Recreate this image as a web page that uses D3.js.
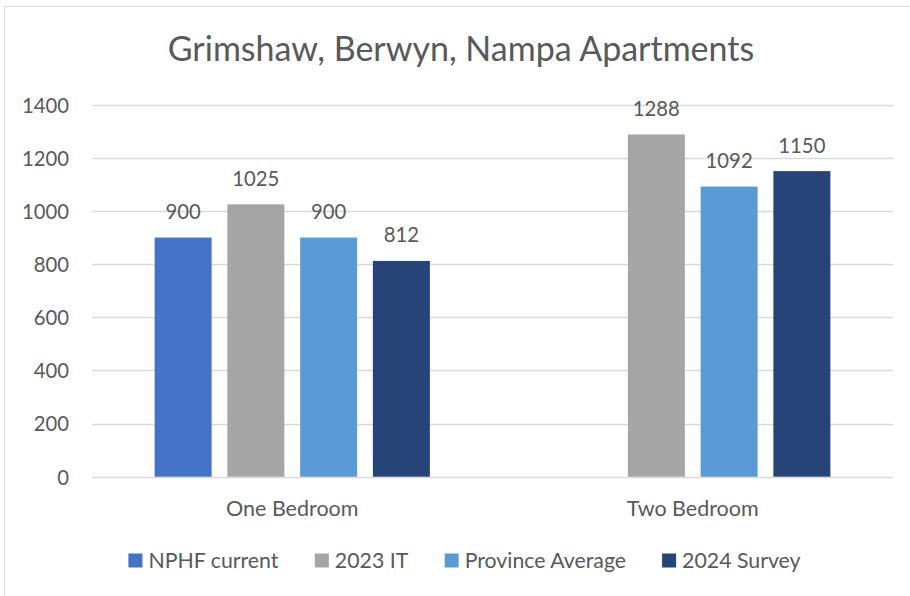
<!DOCTYPE html>
<html>
<head>
<meta charset="utf-8">
<script src="https://cdn.jsdelivr.net/npm/d3@7"></script>
<style>
  html, body { margin: 0; padding: 0; background: #fff; }
  svg { display: block; font-family: Lato, "Open Sans", sans-serif; }
</style>
</head>
<body>
<svg id="chart" width="910" height="596"></svg>
<script>
const title = "Grimshaw, Berwyn, Nampa Apartments";
const categories = ["One Bedroom", "Two Bedroom"];
const seriesNames = ["NPHF current", "2023 IT", "Province Average", "2024 Survey"];
const seriesColors = ["#4472C4", "#A5A5A5", "#5B9BD5", "#264478"];
const nphfCurrent = [900, null];
const it2023 = [1025, 1288];
const provinceAverage = [900, 1092];
const survey2024 = [812, 1150];
const yTicks = [0, 200, 400, 600, 800, 1000, 1200, 1400];

const seriesValues = [nphfCurrent, it2023, provinceAverage, survey2024];
const textColor = "#595959";
const gridColor = "#D9D9D9";

const svg = d3.select("#chart");
svg.append("rect").attr("x", 0).attr("y", 0).attr("width", 910).attr("height", 596).attr("fill", "#fff");
// chart frame
svg.append("rect").attr("x", 4.5).attr("y", 6.5).attr("width", 920).attr("height", 620)
  .attr("fill", "none").attr("stroke", gridColor).attr("stroke-width", 1);

const plotLeft = 92, plotRight = 893, plotTop = 104.7, plotBottom = 476.7;

const y = d3.scaleLinear().domain([0, 1400]).range([plotBottom, plotTop]);
const x0 = d3.scaleBand().domain(categories).range([plotLeft, plotRight]).padding(0);
const groupW = x0.bandwidth() * 0.7266;
const p = 0.2165;
const x1 = d3.scaleBand().domain(seriesNames).range([-groupW / 2, groupW / 2])
  .paddingInner(p).paddingOuter(p / 2);

// gridlines
svg.append("g").selectAll("line").data(yTicks).join("line")
  .attr("x1", plotLeft).attr("x2", plotRight)
  .attr("y1", d => Math.round(y(d)) + 0.5).attr("y2", d => Math.round(y(d)) + 0.5)
  .attr("stroke", gridColor).attr("stroke-width", 1.3);

// y axis labels
const yAxis = d3.axisLeft(y).tickValues(yTicks).tickSize(0).tickPadding(0).tickFormat(d3.format("d"));
const yg = svg.append("g").attr("transform", `translate(69,0)`).call(yAxis);
yg.select(".domain").remove();
yg.selectAll("text").attr("fill", textColor).attr("font-size", "20.3px")
  .attr("font-family", "Lato, sans-serif").attr("dy", "0.36em");

// bars
const flat = [];
categories.forEach((c, ci) => {
  seriesNames.forEach((s, si) => {
    const v = seriesValues[si][ci];
    if (v !== null && v !== undefined) flat.push({ c, s, si, v });
  });
});

const bars = svg.append("g");
bars.selectAll("rect").data(flat).join("rect")
  .attr("x", d => x0(d.c) + x0.bandwidth() / 2 + x1(d.s))
  .attr("y", d => y(d.v))
  .attr("width", x1.bandwidth())
  .attr("height", d => y(0) - y(d.v))
  .attr("fill", d => seriesColors[d.si]);

// data labels
svg.append("g").selectAll("text").data(flat).join("text")
  .attr("x", d => x0(d.c) + x0.bandwidth() / 2 + x1(d.s) + x1.bandwidth() / 2)
  .attr("y", d => y(d.v) - 18.5)
  .attr("text-anchor", "middle")
  .attr("fill", textColor).attr("font-size", "20.3px")
  .text(d => d.v);

// x axis category labels
const xAxis = d3.axisBottom(x0).tickSize(0).tickPadding(0);
const xg = svg.append("g").attr("transform", `translate(0,${plotBottom})`).call(xAxis);
xg.select(".domain").remove();
xg.selectAll("text").attr("fill", textColor).attr("font-size", "21.5px")
  .attr("font-family", "Lato, sans-serif").attr("dy", null).attr("y", 39.5);

// title
svg.append("text").attr("x", 461).attr("y", 61).attr("text-anchor", "middle")
  .attr("fill", textColor).attr("font-size", "34px").text(title);

// legend
const legend = svg.append("g");
const items = legend.selectAll("g").data(seriesNames).join("g");
items.append("rect").attr("width", 14).attr("height", 14).attr("y", 553.5)
  .attr("fill", (d, i) => seriesColors[i]);
items.append("text").attr("x", 20).attr("y", 567.5).attr("fill", textColor)
  .attr("font-size", "21.3px").text(d => d);
const widths = [];
items.each(function () { widths.push(this.getBBox().width); });
const spacing = 36;
const total = d3.sum(widths) + spacing * (widths.length - 1);
let cx = 464.5 - total / 2;
items.attr("transform", (d, i) => {
  const t = `translate(${cx},0)`;
  cx += widths[i] + spacing;
  return t;
});
</script>
</body>
</html>
